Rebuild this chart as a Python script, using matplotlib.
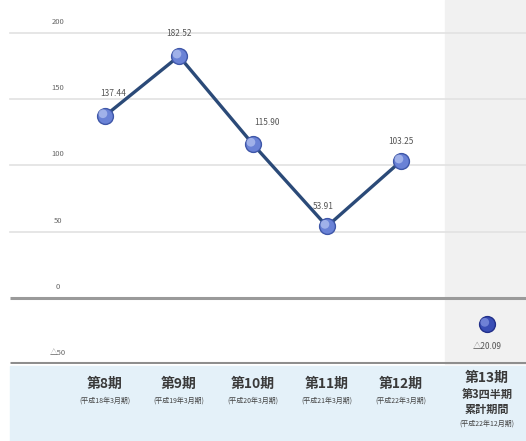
import matplotlib
matplotlib.use("Agg")
import matplotlib.pyplot as plt
from matplotlib.transforms import blended_transform_factory, offset_copy
import numpy as np

plt.rcParams['font.family'] = ['Noto Sans CJK JP', 'DejaVu Sans']

# --- data -------------------------------------------------------------
periods = ["第8期", "第9期", "第10期", "第11期", "第12期", "第13期"]
period_notes = ["(平成18年3月期)", "(平成19年3月期)", "(平成20年3月期)",
                "(平成21年3月期)", "(平成22年3月期)"]
last_extra = ["第3四半期", "累計期間", "(平成22年12月期)"]
values = [137.44, 182.52, 115.90, 53.91, 103.25, -20.09]
value_labels = ["137.44", "182.52", "115.90", "53.91", "103.25", "△20.09"]
yticks = [200, 150, 100, 50, 0, -50]
ytick_labels = ["200", "150", "100", "50", "0", "△50"]

# x positions: five consecutive periods, then the partial-year period set apart
xpos = np.array([0, 1, 2, 3, 4, 5.16])

W, H = 526, 441
fig = plt.figure(figsize=(W / 100, H / 100), dpi=100)
fig.patch.set_facecolor("white")

# background panels in pixel coordinates
bg = fig.add_axes([0, 0, 1, 1])
bg.set_xlim(0, W)
bg.set_ylim(H, 0)
bg.axis("off")
bg.add_patch(plt.Rectangle((445, 0), W - 445, 364, color="#f1f1f1", zorder=0))
bg.add_patch(plt.Rectangle((10, 366), W - 10, H - 366, color="#e4f1f9", zorder=0))

# main plotting axes
ax = fig.add_axes([0, 77 / H, 1, 364 / H])
ax.patch.set_alpha(0)
ax.set_xlim(-105 / 74, (W - 105) / 74)
ax.set_ylim(-50, 200 + 33 / 1.326)
ax.axis("off")

x_left, x_right = 10 / 74 - 105 / 74, (W - 105) / 74

# grid lines
for t in yticks:
    if t == 0:
        ax.plot([x_left, x_right], [t, t], color="#9a9a9a",
                lw=2.2, zorder=1, solid_capstyle="butt")
    elif t == -50:
        ax.plot([x_left, x_right], [t + 0.6, t + 0.6],
                color="#8e8e8e", lw=2.2, zorder=1, solid_capstyle="butt")
    else:
        ax.plot([x_left, x_right], [t, t], color="#e2e2e2",
                lw=1.2, zorder=1)

# y tick labels sitting just above their grid lines
tr_tick = blended_transform_factory(bg.transData, ax.transData)
for t, lab in zip(yticks, ytick_labels):
    ax.annotate(lab, xy=(58, t), xycoords=tr_tick, xytext=(0, 5),
                textcoords="offset points", ha="center", va="bottom",
                fontsize=5.5, color="#666666")

# line through the full-year periods
ax.plot(xpos[:5], values[:5], color="#2b4a78", lw=2.4, zorder=3)

# spherical markers: base disc plus an up-left highlight
hi_tr = offset_copy(ax.transData, fig=fig, x=-1.5, y=1.5, units="points")

def sphere(x, y, base, edge, hi):
    ax.scatter([x], [y], s=130, color=base, edgecolor=edge, linewidth=1.0, zorder=4)
    ax.scatter([x], [y], s=40, color=hi, edgecolor="none", zorder=5,
               alpha=0.75, transform=hi_tr)

for i in range(5):
    sphere(xpos[i], values[i], "#6a82d6", "#3f57a8", "#b3c2f0")
sphere(xpos[5], values[5], "#3a4eb6", "#22308a", "#8193e2")

# value labels
offsets = [(6, 16), (0, 16), (10, 16), (-3, 14), (0, 14), (0, -16)]
for x, v, lab, (dx, dy) in zip(xpos, values, value_labels, offsets):
    ax.annotate(lab, xy=(x, v), xytext=(dx, dy), textcoords="offset points",
                ha="center", va="center", fontsize=6, color="#555555")

# category labels in the band below the axis
tr_cat = blended_transform_factory(ax.transData, bg.transData)
for i in range(5):
    ax.text(xpos[i], 384, periods[i], transform=tr_cat, ha="center",
            va="center", fontsize=10, fontweight="bold", color="#3a3a3a")
    ax.text(xpos[i], 401, period_notes[i], transform=tr_cat, ha="center",
            va="center", fontsize=5, color="#444444")
ax.text(xpos[5], 378, periods[5], transform=tr_cat, ha="center",
        va="center", fontsize=10, fontweight="bold", color="#3a3a3a")
ax.text(xpos[5], 394, last_extra[0], transform=tr_cat, ha="center",
        va="center", fontsize=8, fontweight="bold", color="#3a3a3a")
ax.text(xpos[5], 409, last_extra[1], transform=tr_cat, ha="center",
        va="center", fontsize=8, fontweight="bold", color="#3a3a3a")
ax.text(xpos[5], 424, last_extra[2], transform=tr_cat, ha="center",
        va="center", fontsize=5, color="#444444")

fig.savefig("out.png", dpi=100)
